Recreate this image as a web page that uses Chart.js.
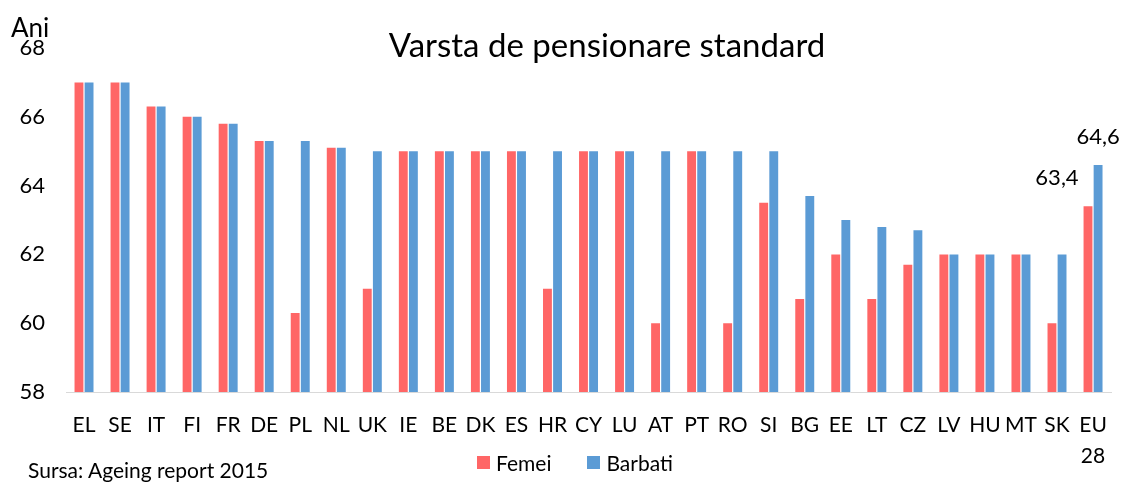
<!DOCTYPE html>
<html>
<head>
<meta charset="utf-8">
<script src="https://cdn.jsdelivr.net/npm/chart.js@4"></script>
<style>
  html, body { margin: 0; padding: 0; background: #fff; }
  #wrap { position: relative; width: 1124px; height: 486px; font-family: Lato, "Open Sans", sans-serif; color: #000; }
  #chart { position: absolute; left: 0; top: 0; }
  .txt { position: absolute; white-space: nowrap; }
  #title { left: 0; width: 1214px; top: 24px; text-align: center; font-size: 33px; }
  #unit { left: 11px; top: 11px; font-size: 26px; }
  #source { left: 28px; top: 457px; font-size: 21px; }
  #legend { left: 477px; top: 450px; font-size: 21px; display: flex; align-items: center; }
  #legend span.box { display: inline-block; width: 13px; height: 13px; margin-right: 6px; }
  #legend span.item { display: inline-flex; align-items: center; margin-right: 36px; }
</style>
</head>
<body>
<div id="wrap">
  <canvas id="chart" width="1124" height="486"></canvas>
  <div class="txt" id="title">Varsta de pensionare standard</div>
  <div class="txt" id="unit">Ani</div>
  <div class="txt" id="source">Sursa: Ageing report 2015</div>
  <div class="txt" id="legend">
    <span class="item"><span class="box" style="background:#FF6666"></span>Femei</span>
    <span class="item"><span class="box" style="background:#5B9BD5"></span>Barbati</span>
  </div>
</div>
<script>
// categories (country codes), EU 28 split on two lines
const countries = ["EL", "SE", "IT", "FI", "FR", "DE", "PL", "NL", "UK", "IE", "BE", "DK", "ES", "HR",
  "CY", "LU", "AT", "PT", "RO", "SI", "BG", "EE", "LT", "CZ", "LV", "HU", "MT", "SK", ["EU", "28"]];

// standard pension age, women
const femei = [67, 67, 66.3, 66, 65.8, 65.3, 60.3, 65.1, 61, 65, 65, 65, 65, 61,
  65, 65, 60, 65, 60, 63.5, 60.7, 62, 60.7, 61.7, 62, 62, 62, 60, 63.4];

// standard pension age, men
const barbati = [67, 67, 66.3, 66, 65.8, 65.3, 65.3, 65.1, 65, 65, 65, 65, 65, 65,
  65, 65, 65, 65, 65, 65, 63.7, 63, 62.8, 62.7, 62, 62, 62, 62, 64.6];

const yTicks = [58, 60, 62, 64, 66, 68];

const FONT = "Lato, 'Open Sans', sans-serif";

// only the EU 28 bars carry a value label
const euLabels = {
    id: "euLabels",
    afterDatasetsDraw(chart) {
        const ctx = chart.ctx;
        const last = countries.length - 1;
        const f = chart.getDatasetMeta(0).data[last];
        const b = chart.getDatasetMeta(1).data[last];
        ctx.save();
        ctx.fillStyle = "#000";
        ctx.font = "22px " + FONT;
        ctx.textAlign = "center";
        ctx.textBaseline = "middle";
        ctx.fillText(String(femei[last]).replace(".", ","), f.x - 31, f.y - 28);
        ctx.fillText(String(barbati[last]).replace(".", ","), b.x, b.y - 28);
        ctx.restore();
    }
};

const ctx = document.getElementById("chart").getContext("2d");
const chart = new Chart(ctx, {
    type: "bar",
    data: {
        labels: countries,
        datasets: [
            {
                label: "Femei",
                data: femei,
                backgroundColor: "#FF6666",
                categoryPercentage: 0.56,
                barPercentage: 0.88,
            },
            {
                label: "Barbati",
                data: barbati,
                backgroundColor: "#5B9BD5",
                categoryPercentage: 0.56,
                barPercentage: 0.88,
            },
        ],
    },
    options: {
        responsive: false,
        animation: false,
        layout: {
            padding: { top: 48, left: 20, right: 10, bottom: 14 },
        },
        plugins: {
            legend: { display: false },
            title: { display: false },
            tooltip: { enabled: false },
        },
        scales: {
            x: {
                afterFit: (axis) => { axis.height = 80; },
                grid: { display: false, drawTicks: false },
                border: { display: true, color: "#d9d9d9", width: 1 },
                ticks: {
                    color: "#000",
                    font: { family: FONT, size: 21, lineHeight: 1.5 },
                    padding: 17,
                    maxRotation: 0,
                    autoSkip: false,
                },
            },
            y: {
                min: yTicks[0],
                max: yTicks[yTicks.length - 1],
                afterBuildTicks: (axis) => {
                    axis.ticks = yTicks.map((v) => ({ value: v }));
                },
                afterFit: (axis) => { axis.width = 46; },
                grid: { display: false, drawTicks: false },
                border: { display: false },
                ticks: {
                    color: "#000",
                    font: { family: FONT, size: 22 },
                    padding: 21,
                },
            },
        },
    },
    plugins: [euLabels],
});
</script>
</body>
</html>
